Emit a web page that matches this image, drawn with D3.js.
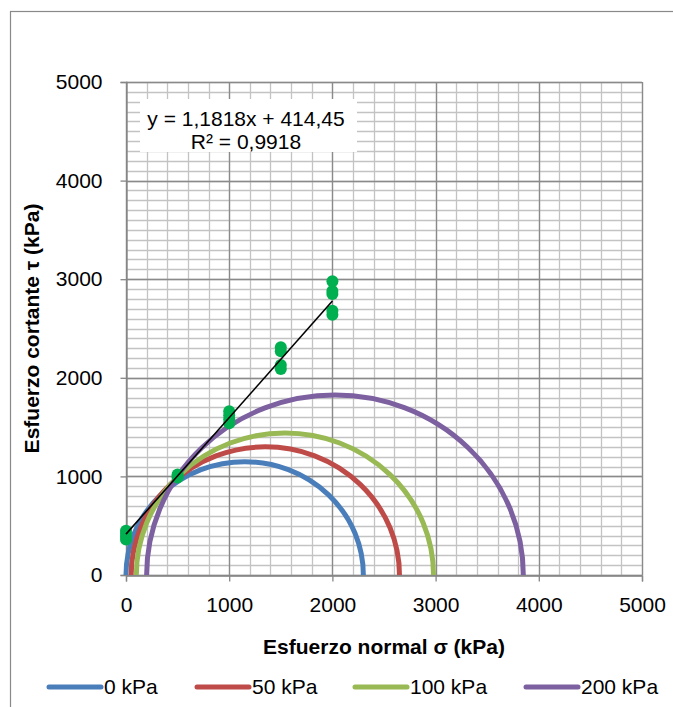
<!DOCTYPE html>
<html><head><meta charset="utf-8">
<script src="https://cdn.jsdelivr.net/npm/d3@7"></script>
<style>html,body{margin:0;padding:0;background:#fff;}svg{display:block;font-family:"Liberation Sans",Arial,sans-serif;}</style>
</head><body>
<svg id="c" width="673" height="707"></svg>
<script>
// ---- data ----
const seriesNames = ["0 kPa", "50 kPa", "100 kPa", "200 kPa"];
const seriesColors = ["#4A7EBB", "#BE4B48", "#98B954", "#7D60A0"];
const sigma3 = [0, 50, 100, 200];          // minor principal stress (kPa)
const sigma1 = [2300, 2650, 2980, 3850];   // major principal stress (kPa)
const pointSigma = [0,0,0,0, 500,500,500, 1000,1000,1000,1000, 1500,1500,1500,1500, 2000,2000,2000,2000,2000];
const pointTau   = [360,390,420,450, 990,1005,1020, 1540,1580,1620,1660, 2090,2130,2270,2310, 2640,2680,2850,2880,2980];
const trendSlope = 1.1818, trendIntercept = 414.45, trendR2 = 0.9918;
const trendRange = [0, 2000];
const xTicks = [0, 1000, 2000, 3000, 4000, 5000];
const yTicks = [0, 1000, 2000, 3000, 4000, 5000];
const xMinor = d3.range(0, 5001, 200);
const yMinor = d3.range(0, 5001, 100);

// ---- layout ----
const FS = "21px";
const svg = d3.select("#c");
const L = 126, R = 642, T = 82, B = 575;
const x = d3.scaleLinear().domain([0, 5000]).range([L, R]);
const y = d3.scaleLinear().domain([0, 5000]).range([B, T]);

// chart border (clipped by window)
svg.append("rect").attr("x", 10.5).attr("y", 11.5).attr("width", 700).attr("height", 720)
  .attr("fill", "none").attr("stroke", "#898989").attr("stroke-width", 1.2);

// minor gridlines
const g = svg.append("g");
g.selectAll(".mx").data(xMinor).join("line")
  .attr("x1", d => Math.round(x(d)) + 0.5).attr("x2", d => Math.round(x(d)) + 0.5)
  .attr("y1", T).attr("y2", B).attr("stroke", "#c3c3c3").attr("stroke-width", 1.3);
g.selectAll(".my").data(yMinor).join("line")
  .attr("y1", d => Math.round(y(d)) + 0.5).attr("y2", d => Math.round(y(d)) + 0.5)
  .attr("x1", L).attr("x2", R).attr("stroke", "#c3c3c3").attr("stroke-width", 1.3);
// major gridlines
g.selectAll(".Mx").data(xTicks).join("line")
  .attr("x1", d => Math.round(x(d)) + 0.5).attr("x2", d => Math.round(x(d)) + 0.5)
  .attr("y1", T).attr("y2", B).attr("stroke", "#8a8a8a").attr("stroke-width", 1.3);
g.selectAll(".My").data(yTicks).join("line")
  .attr("y1", d => Math.round(y(d)) + 0.5).attr("y2", d => Math.round(y(d)) + 0.5)
  .attr("x1", L).attr("x2", R).attr("stroke", "#8a8a8a").attr("stroke-width", 1.3);

// axes
const xAxis = d3.axisBottom(x).tickValues(xTicks).tickSize(6).tickPadding(16).tickFormat(d3.format("d"));
const yAxis = d3.axisLeft(y).tickValues(yTicks).tickSize(6).tickPadding(18).tickFormat(d3.format("d"));
const gx = svg.append("g").attr("transform", `translate(0,${B + 0.5})`).call(xAxis);
const gy = svg.append("g").attr("transform", `translate(${L + 0.5},0)`).call(yAxis);
[gx, gy].forEach(a => {
  a.select(".domain").attr("stroke", "#868686").attr("stroke-width", 1.3);
  a.selectAll(".tick line").attr("stroke", "#868686").attr("stroke-width", 1.3);
  a.selectAll(".tick text").attr("fill", "#000").style("font-size", FS)
    .style("font-family", "'Liberation Sans', Arial, sans-serif");
});

// Mohr circles (semicircles via elliptical arc using scales)
const circles = svg.append("g");
sigma3.forEach((s3, i) => {
  const s1 = sigma1[i];
  const r = (s1 - s3) / 2;
  const rx = x(r) - x(0), ry = y(0) - y(r);
  circles.append("path")
    .attr("d", `M${x(s3)},${y(0)} A${rx},${ry} 0 0 1 ${x(s1)},${y(0)}`)
    .attr("fill", "none").attr("stroke", seriesColors[i]).attr("stroke-width", 5);
});

// points
svg.append("g").selectAll("circle").data(pointSigma.map((s, i) => [s, pointTau[i]])).join("circle")
  .attr("cx", d => x(d[0])).attr("cy", d => y(d[1])).attr("r", 6).attr("fill", "#00B050");

// trendline
svg.append("line")
  .attr("x1", x(trendRange[0])).attr("y1", y(trendSlope * trendRange[0] + trendIntercept))
  .attr("x2", x(trendRange[1])).attr("y2", y(trendSlope * trendRange[1] + trendIntercept))
  .attr("stroke", "#000").attr("stroke-width", 1.6);

// equation label
const fmt = v => String(v).replace(".", ",");
svg.append("rect").attr("x", 140).attr("y", 99).attr("width", 217).attr("height", 53).attr("fill", "#fff");
svg.append("text").attr("x", 246).attr("y", 126).attr("text-anchor", "middle").style("font-size", FS)
  .text(`y = ${fmt(trendSlope)}x + ${fmt(trendIntercept)}`);
svg.append("text").attr("x", 246).attr("y", 149).attr("text-anchor", "middle").style("font-size", FS)
  .text(`R² = ${fmt(trendR2)}`);

// axis titles
svg.append("text").attr("x", (L + R) / 2).attr("y", 654).attr("text-anchor", "middle")
  .style("font-size", FS).style("font-weight", "bold").text("Esfuerzo normal σ (kPa)");
svg.append("text").attr("transform", `translate(39,${(T + B) / 2}) rotate(-90)`).attr("text-anchor", "middle")
  .style("font-size", FS).style("font-weight", "bold").text("Esfuerzo cortante τ (kPa)");

// legend
const legX = [47, 195, 353, 524];
const lg = svg.append("g");
seriesNames.forEach((n, i) => {
  lg.append("line").attr("x1", legX[i] + 2).attr("x2", legX[i] + 54).attr("y1", 687).attr("y2", 687)
    .attr("stroke", seriesColors[i]).attr("stroke-width", 5).attr("stroke-linecap", "round");
  lg.append("text").attr("x", legX[i] + 57).attr("y", 694).style("font-size", FS).text(n);
});
</script>
</body></html>
